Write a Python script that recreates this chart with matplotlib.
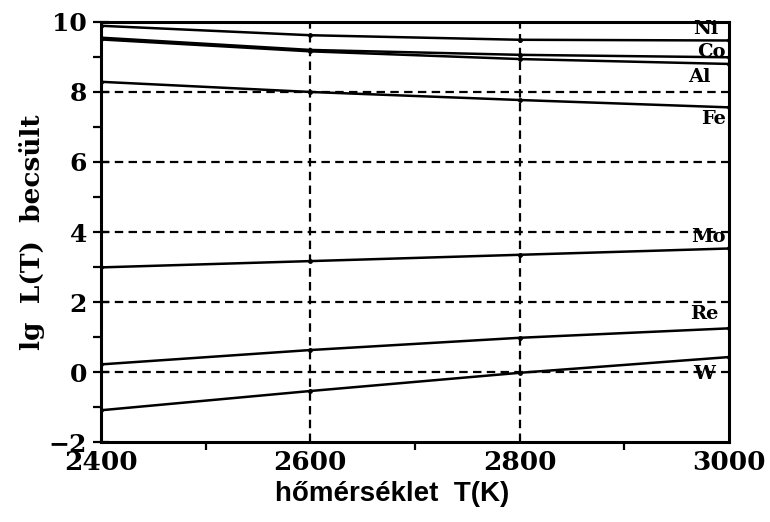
import numpy as np
import matplotlib.pyplot as plt
from matplotlib.ticker import MultipleLocator

# estimated lg L(T) for each metal at four temperatures
T = [2400, 2600, 2800, 3000]
metals = ['Ni', 'Co', 'Al', 'Fe', 'Mo', 'Re', 'W']
ni = [9.89, 9.62, 9.49, 9.47]
co = [9.55, 9.20, 9.06, 8.99]
al = [9.50, 9.16, 8.94, 8.80]
fe = [8.29, 8.00, 7.77, 7.56]
mo = [2.99, 3.17, 3.35, 3.53]
re = [0.22, 0.63, 0.98, 1.25]
w = [-1.09, -0.54, -0.02, 0.43]
series = [ni, co, al, fe, mo, re, w]

# metal names sit just inside the right edge
label_x = [2990, 2997, 2982, 2997, 2997, 2990, 2986]
label_y = [9.81, 9.15, 8.44, 7.23, 3.85, 1.66, -0.06]

serif = 'DejaVu Serif'

fig = plt.figure(figsize=(7.7, 5.22), dpi=100)
ax = fig.add_axes([0.131, 0.153, 0.816, 0.805])

for ys in series:
    ax.plot(T, ys, color='black', lw=1.8, marker='o', ms=2.5)

for name, lx, ly in zip(metals, label_x, label_y):
    ax.text(lx, ly, name, fontfamily=serif, fontweight='bold', fontsize=14,
            ha='right', va='center', zorder=5)

# dashed grid
dash = (0, (3.8, 2.4))
for yv in [0, 2, 4, 6, 8]:
    ax.axhline(yv, color='black', lw=1.6, ls=dash, zorder=0)
for xv in [2600, 2800]:
    ax.axvline(xv, color='black', lw=1.6, ls=dash, zorder=0)

ax.set_xlim(2400, 3000)
ax.set_ylim(-2, 10)
ax.xaxis.set_major_locator(MultipleLocator(200))
ax.xaxis.set_minor_locator(MultipleLocator(100))
ax.yaxis.set_minor_locator(MultipleLocator(1))

ax.tick_params(axis='y', which='major', direction='inout', length=12, width=1.6,
               pad=4)
ax.tick_params(axis='y', which='minor', direction='out', length=6, width=1.6)
ax.tick_params(axis='x', which='major', direction='out', length=0, pad=6)
ax.tick_params(axis='x', which='minor', direction='out', length=6, width=1.6)

ax.set_xticks(T)
ax.set_xticklabels([str(t) for t in T], fontfamily=serif, fontweight='bold',
                   fontsize=19)
ax.set_yticks([-2, 0, 2, 4, 6, 8, 10])
ax.set_yticklabels(['\u22122', '0', '2', '4', '6', '8', '10'],
                   fontfamily=serif, fontweight='bold', fontsize=18)

for sp in ax.spines.values():
    sp.set_linewidth(2.2)

ax.set_ylabel('lg  L(T)  becsült', fontfamily=serif, fontweight='bold',
              fontsize=19)
ax.yaxis.set_label_coords(-0.089, 0.5)
ax.set_xlabel('hőmérséklet  T(K)', fontfamily='Liberation Sans',
              fontweight='bold', fontsize=20)
ax.xaxis.set_label_coords(0.463, -0.093)

fig.savefig('out.png', dpi=100, facecolor='white')
